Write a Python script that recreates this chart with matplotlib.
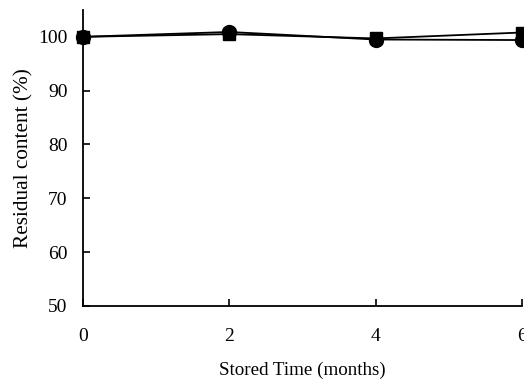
import matplotlib.pyplot as plt

months = [0, 2, 4, 6]
square_vals = [100.0, 100.5, 99.7, 100.8]
circle_vals = [100.0, 100.9, 99.5, 99.4]
yticks = [50, 60, 70, 80, 90, 100]

plt.rcParams['font.family'] = ['Liberation Serif', 'DejaVu Serif']

fig = plt.figure(figsize=(5.24, 3.81), dpi=100)
ax = fig.add_axes([0.158, 0.197, 0.838, 0.777])

ax.plot(months, square_vals, color="black", lw=1.3, marker="s", ms=9, clip_on=False, zorder=3)
ax.plot(months, circle_vals, color="black", lw=1.3, marker="o", ms=10, clip_on=False, zorder=3)

ax.set_xlim(0, 6)
ax.set_ylim(50, 105)
ax.set_xticks(months)
ax.set_yticks(yticks)
ax.spines['top'].set_visible(False)
ax.spines['right'].set_visible(False)
ax.spines['left'].set_linewidth(1.3)
ax.spines['bottom'].set_linewidth(1.3)
ax.tick_params(axis='x', direction='in', length=5, width=1.2, pad=16, labelsize=14)
ax.tick_params(axis='y', direction='in', length=5, width=1.2, pad=11, labelsize=14)

ax.set_xlabel("Stored Time (months)", fontsize=13.7, labelpad=12)
ax.set_ylabel("Residual content (%)", fontsize=15.3, labelpad=3)

fig.savefig("out.png", dpi=100)
